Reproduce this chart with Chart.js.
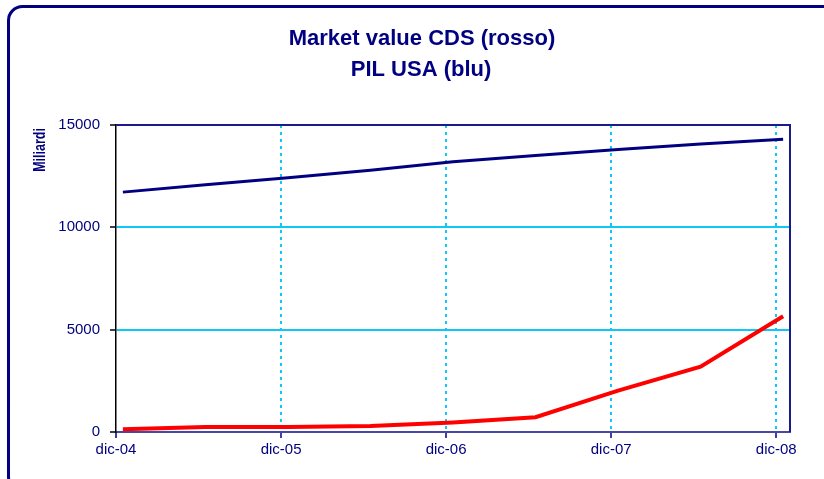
<!DOCTYPE html>
<html>
<head>
<meta charset="utf-8">
<title>Market value CDS / PIL USA</title>
<script src="https://cdn.jsdelivr.net/npm/chart.js@4/dist/chart.umd.min.js"></script>
<style>
  html, body { margin: 0; padding: 0; background: #fff; }
  #wrap { position: relative; width: 824px; height: 479px; }
</style>
</head>
<body>
<div id="wrap"><canvas id="chart"></canvas></div>
<script>
// x positions are months counted from dic-04
const tickMonths = [0, 12, 24, 36, 48];
const tickLabels = ['dic-04', 'dic-05', 'dic-06', 'dic-07', 'dic-08'];
const obsMonths = [0.5, 6.5, 12.5, 18.5, 24.5, 30.5, 36.5, 42.5, 48.5];
const cdsValues = [133, 243, 250, 294, 470, 721, 2020, 3192, 5652];     // rosso
const gdpValues = [11720, 12080, 12420, 12790, 13200, 13510, 13800, 14070, 14300]; // blu
const yTicks = [0, 5000, 10000, 15000];
const titleLines = ['Market value CDS (rosso)', 'PIL USA (blu)'];
const yTitle = 'Miliardi';

const navy = '#000080';
const cyan = '#10c8f8';
const fontFamily = '"Liberation Sans", Arial, sans-serif';

function points(values) {
    return values.map((v, i) => ({ x: obsMonths[i], y: v }));
}

// rounded frame, titles and the top/right border of the plot
const framePlugin = {
    id: 'frame',
    beforeDraw(chart) {
        const ctx = chart.ctx;
        ctx.save();
        ctx.fillStyle = '#fff';
        ctx.fillRect(0, 0, chart.width, chart.height);
        ctx.strokeStyle = navy;
        ctx.lineWidth = 3;
        ctx.beginPath();
        ctx.roundRect(8.5, 6.5, 830, 484, 14);
        ctx.stroke();

        ctx.fillStyle = navy;
        ctx.font = 'bold 22px ' + fontFamily;
        ctx.textAlign = 'center';
        ctx.textBaseline = 'alphabetic';
        ctx.fillText(titleLines[0], 422, 45);
        ctx.fillText(titleLines[1], 421, 76);

        // y axis title, placed near the top of the axis
        ctx.translate(41, 150);
        ctx.rotate(-Math.PI / 2);
        ctx.scale(0.78, 1);
        ctx.font = 'bold 16px ' + fontFamily;
        ctx.textBaseline = 'middle';
        ctx.fillText(yTitle, 0, 0);
        ctx.restore();
    },
    afterDatasetsDraw(chart) {
        const a = chart.chartArea;
        const ctx = chart.ctx;
        ctx.save();
        ctx.strokeStyle = '#1a1a8c';
        ctx.lineWidth = 2;
        ctx.beginPath();
        ctx.moveTo(a.left, a.top);
        ctx.lineTo(a.right, a.top);
        ctx.lineTo(a.right, a.bottom);
        ctx.stroke();
        ctx.restore();
    }
};

new Chart(document.getElementById('chart'), {
    type: 'line',
    data: {
        datasets: [{
            label: 'PIL USA',
            data: points(gdpValues),
            borderColor: navy,
            borderWidth: 3,
            pointRadius: 0,
            tension: 0
        }, {
            label: 'Market value CDS',
            data: points(cdsValues),
            borderColor: '#ff0000',
            borderWidth: 4,
            pointRadius: 0,
            tension: 0
        }]
    },
    options: {
        responsive: true,
        maintainAspectRatio: false,
        animation: false,
        layout: { padding: { left: 0, right: 34, top: 125, bottom: 0 } },
        plugins: {
            legend: { display: false },
            tooltip: { enabled: false },
            title: { display: false }
        },
        scales: {
            x: {
                type: 'linear',
                min: 0,
                max: 49,
                afterBuildTicks: s => { s.ticks = tickMonths.map(v => ({ value: v })); },
                afterFit: s => { s.height = 47; },
                ticks: {
                    color: navy,
                    padding: 3,
                    maxRotation: 0,
                    autoSkip: false,
                    font: { family: fontFamily, size: 15 },
                    callback: v => tickLabels[tickMonths.indexOf(v)]
                },
                grid: {
                    color: ctx => (ctx.tick && ctx.tick.value > 0) ? cyan : 'rgba(0,0,0,0)',
                    lineWidth: 2,
                    tickColor: navy,
                    tickLength: 6,
                    tickWidth: 1.5,
                    tickBorderDash: []
                },
                border: { color: '#4848a4', width: 2, dash: [3, 4] }
            },
            y: {
                min: 0,
                max: 15000,
                afterBuildTicks: s => { s.ticks = yTicks.map(v => ({ value: v })); },
                afterFit: s => { s.width = 116; },
                ticks: {
                    color: navy,
                    padding: 10,
                    font: { family: fontFamily, size: 15 },
                    callback: v => String(v)
                },
                grid: {
                    color: ctx => (ctx.tick && ctx.tick.value > 0 && ctx.tick.value < 15000) ? cyan : 'rgba(0,0,0,0)',
                    lineWidth: 2,
                    tickColor: '#000',
                    tickLength: 6,
                    tickWidth: 1.5
                },
                border: { color: '#000', width: 1.5 }
            }
        }
    },
    plugins: [framePlugin]
});
</script>
</body>
</html>
